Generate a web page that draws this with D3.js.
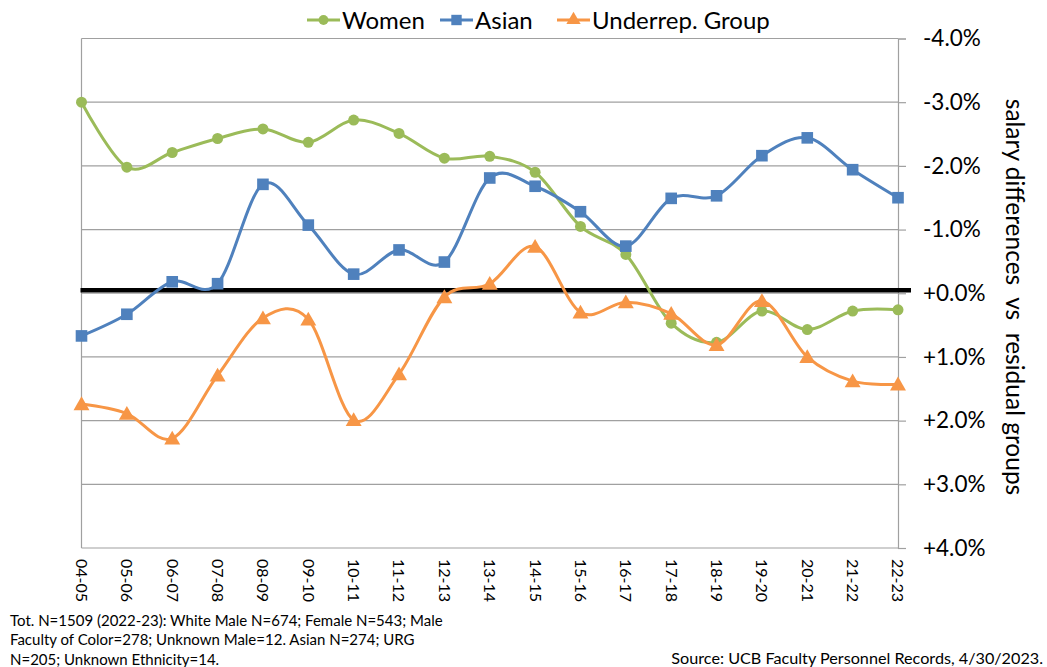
<html>
<head>
<title>Salary differences</title>
<script src="https://d3js.org/d3.v7.min.js"></script>
<style>
  body { margin: 0; background: #fff; }
  text { font-family: Lato, "Open Sans", sans-serif; fill: #000; }
</style>
</head>
<body>
<div id="chart"></div>
<script>
// data (percent; negative = above the zero line)
var years = ["04-05","05-06","06-07","07-08","08-09","09-10","10-11","11-12","12-13","13-14",
             "14-15","15-16","16-17","17-18","18-19","19-20","20-21","21-22","22-23"];
var women = [-3.00,-1.98,-2.21,-2.43,-2.58,-2.37,-2.72,-2.51,-2.12,-2.15,
             -1.90,-1.05,-0.61,0.47,0.77,0.28,0.57,0.28,0.26];
var asian = [0.67,0.33,-0.18,-0.15,-1.71,-1.07,-0.30,-0.68,-0.49,-1.81,
             -1.68,-1.28,-0.74,-1.49,-1.53,-2.16,-2.44,-1.94,-1.50];
var urg   = [1.74,1.89,2.28,1.29,0.39,0.41,1.99,1.27,0.06,-0.15,
             -0.73,0.30,0.14,0.32,0.81,0.12,1.00,1.38,1.43];
var yTicks = [-4,-3,-2,-1,0,1,2,3,4];
var seriesNames = ["Women","Asian","Underrep. Group"];
var footLines = ["Tot. N=1509 (2022-23): White Male N=674; Female N=543; Male",
                 "Faculty of Color=278; Unknown Male=12. Asian N=274; URG",
                 "N=205; Unknown Ethnicity=14."];
var sourceText = "Source: UCB Faculty Personnel Records, 4/30/2023.";

var width = 1047, height = 667;
var plotLeft = 81.5, plotRight = 898, plotTop = 38.5, plotBottom = 548;

var series = [
    {name: seriesNames[0], values: women, color: "#9BBB59", shape: d3.symbolCircle, size: 95},
    {name: seriesNames[1], values: asian, color: "#4F81BD", shape: d3.symbolSquare, size: 135},
    {name: seriesNames[2], values: urg,   color: "#F79646", shape: d3.symbolTriangle, size: 110}
];

var svg = d3.select("#chart").append("svg")
    .attr("width", width)
    .attr("height", height);

var x = d3.scalePoint().domain(years).range([plotLeft, plotRight]);
var y = d3.scaleLinear().domain([-4, 4]).range([plotTop, plotBottom]);

// gridlines
svg.append("g").selectAll("line")
    .data(yTicks)
    .enter().append("line")
    .attr("x1", plotLeft).attr("x2", plotRight)
    .attr("y1", function(d) { return y(d); })
    .attr("y2", function(d) { return y(d); })
    .style("stroke", "#a0a0a0")
    .style("stroke-width", 1.2);

// left border
svg.append("line")
    .attr("x1", plotLeft).attr("x2", plotLeft)
    .attr("y1", plotTop).attr("y2", plotBottom)
    .style("stroke", "#a0a0a0").style("stroke-width", 1.2);

// right axis
var yAxis = d3.axisRight(y)
    .tickValues(yTicks)
    .tickSize(8)
    .tickPadding(17)
    .tickFormat(function(d) { return (d < 0 ? "" : "+") + d.toFixed(1) + "%"; });

var ga = svg.append("g")
    .attr("transform", "translate(" + plotRight + ",0)")
    .call(yAxis);
ga.select(".domain").style("stroke", "#a0a0a0").style("stroke-width", 1.2);
ga.selectAll(".tick line").style("stroke", "#a0a0a0").style("stroke-width", 1.2);
ga.selectAll("text")
    .style("font-family", "Lato, sans-serif")
    .style("font-size", "22.5px")
    .attr("fill", "#000");

// axis title
svg.append("text")
    .attr("transform", "translate(1006,297) rotate(90)")
    .attr("text-anchor", "middle")
    .style("font-size", "24.5px")
    .style("white-space", "pre")
    .text("salary differences  vs  residual groups");

// category labels
svg.append("g").selectAll("text")
    .data(years)
    .enter().append("text")
    .attr("transform", function(d) { return "translate(" + x(d) + ",559) rotate(90)"; })
    .attr("dy", "0.35em")
    .style("font-size", "16px")
    .text(function(d) { return d; });

// zero line
svg.append("line")
    .attr("x1", plotLeft - 1).attr("x2", plotRight + 13)
    .attr("y1", y(0) - 3).attr("y2", y(0) - 3)
    .style("stroke", "#000")
    .style("stroke-width", 4.5);

var line = d3.line()
    .x(function(d, i) { return x(years[i]); })
    .y(function(d) { return y(d); })
    .curve(d3.curveCardinal);

series.forEach(function(s) {
    var g = svg.append("g");
    g.append("path")
        .datum(s.values)
        .attr("d", line)
        .style("fill", "none")
        .style("stroke", s.color)
        .style("stroke-width", 3);
    g.selectAll(".marker")
        .data(s.values)
        .enter().append("path")
        .classed("marker", true)
        .attr("transform", function(d, i) {
            var dy = s.shape === d3.symbolTriangle ? 1.5 : 0;
            return "translate(" + x(years[i]) + "," + (y(d) + dy) + ")";
        })
        .attr("d", d3.symbol().type(s.shape).size(s.size))
        .style("fill", s.color);
});

// legend
var legendX = [307, 440, 557];
var legend = svg.append("g").selectAll("g")
    .data(series)
    .enter().append("g")
    .attr("transform", function(d, i) { return "translate(" + legendX[i] + ",20)"; });
legend.append("line")
    .attr("x1", 0).attr("x2", 33)
    .style("stroke", function(d) { return d.color; })
    .style("stroke-width", 3);
legend.append("path")
    .attr("transform", "translate(16.5,0)")
    .attr("d", function(d) { return d3.symbol().type(d.shape).size(d.size * 0.8)(); })
    .style("fill", function(d) { return d.color; });
legend.append("text")
    .attr("x", 35)
    .attr("dy", "0.36em")
    .style("font-size", "24px")
    .text(function(d) { return d.name; });

// footnote
svg.append("g").selectAll("text")
    .data(footLines)
    .enter().append("text")
    .attr("x", 10)
    .attr("y", function(d, i) { return 626 + i * 19.3; })
    .style("font-size", "15px")
    .text(function(d) { return d; });

svg.append("text")
    .attr("x", 1043)
    .attr("y", 664)
    .attr("text-anchor", "end")
    .style("font-size", "16.2px")
    .text(sourceText);
</script>
</body>
</html>
